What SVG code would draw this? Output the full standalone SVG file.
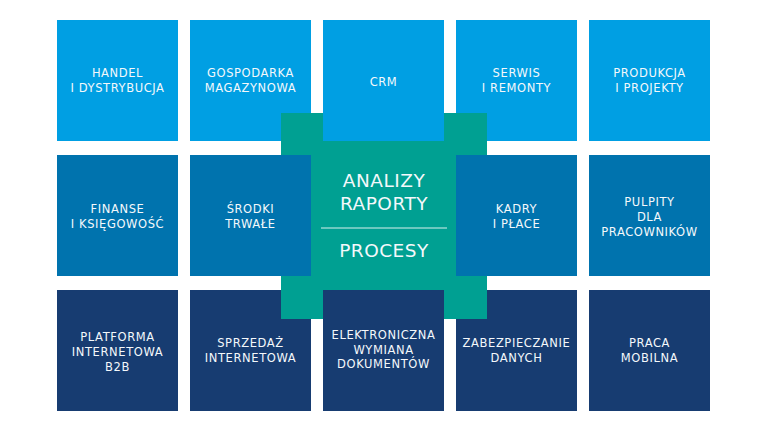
<svg xmlns="http://www.w3.org/2000/svg" width="768" height="432" viewBox="0 0 768 432">
<style>
.r1{fill:#009FE3}
.r2{fill:#0073AE}
.r3{fill:#173C71}
.core{fill:#00A092}
.t{fill:#F4F8FB;font-family:"DejaVu Sans",sans-serif;font-size:11.5px;text-anchor:middle;letter-spacing:0.6px}
.c{fill:#F4F8FB;font-family:"DejaVu Sans",sans-serif;font-size:18.5px;text-anchor:middle;letter-spacing:0.5px}
</style>
<rect width="768" height="432" fill="#FFFFFF"/>
<g id="gospodarka"><rect class="r1" x="190" y="20" width="121" height="121"/><text class="t" x="250.5" y="77">GOSPODARKA</text><text class="t" x="250.5" y="92">MAGAZYNOWA</text></g>
<g id="serwis"><rect class="r1" x="456" y="20" width="121" height="121"/><text class="t" x="516.5" y="77">SERWIS</text><text class="t" x="516.5" y="92">I REMONTY</text></g>
<g id="sprzedaz"><rect class="r3" x="190" y="290" width="121" height="121"/><text class="t" x="250.5" y="347">SPRZEDAŻ</text><text class="t" x="250.5" y="362">INTERNETOWA</text></g>
<g id="zabezpieczanie"><rect class="r3" x="456" y="290" width="121" height="121"/><text class="t" x="516.5" y="347">ZABEZPIECZANIE</text><text class="t" x="516.5" y="362">DANYCH</text></g>
<g id="center"><rect class="core" x="281" y="113" width="206" height="206"/><text class="c" x="384" y="187">ANALIZY</text><text class="c" x="384" y="210">RAPORTY</text><line x1="321" y1="228" x2="447" y2="228" stroke="#FFFFFF" stroke-width="1" opacity="0.85"/><text class="c" x="384" y="257">PROCESY</text></g>
<g id="handel"><rect class="r1" x="57" y="20" width="121" height="121"/><text class="t" x="117.5" y="77">HANDEL</text><text class="t" x="117.5" y="92">I DYSTRYBUCJA</text></g>
<g id="crm"><rect class="r1" x="323" y="20" width="121" height="121"/><text class="t" x="383.5" y="85.5">CRM</text></g>
<g id="produkcja"><rect class="r1" x="589" y="20" width="121" height="121"/><text class="t" x="649.5" y="77">PRODUKCJA</text><text class="t" x="649.5" y="92">I PROJEKTY</text></g>
<g id="finanse"><rect class="r2" x="57" y="155" width="121" height="121"/><text class="t" x="117.5" y="212.5">FINANSE</text><text class="t" x="117.5" y="227.5">I KSIĘGOWOŚĆ</text></g>
<g id="srodki"><rect class="r2" x="190" y="155" width="121" height="121"/><text class="t" x="250.5" y="212.5">ŚRODKI</text><text class="t" x="250.5" y="227.5">TRWAŁE</text></g>
<g id="kadry"><rect class="r2" x="456" y="155" width="121" height="121"/><text class="t" x="516.5" y="212.5">KADRY</text><text class="t" x="516.5" y="227.5">I PŁACE</text></g>
<g id="pulpity"><rect class="r2" x="589" y="155" width="121" height="121"/><text class="t" x="649.5" y="206">PULPITY</text><text class="t" x="649.5" y="221">DLA</text><text class="t" x="649.5" y="236">PRACOWNIKÓW</text></g>
<g id="platforma"><rect class="r3" x="57" y="290" width="121" height="121"/><text class="t" x="117.5" y="341">PLATFORMA</text><text class="t" x="117.5" y="356">INTERNETOWA</text><text class="t" x="117.5" y="371">B2B</text></g>
<g id="edi"><rect class="r3" x="323" y="290" width="121" height="121"/><text class="t" x="383.5" y="338.5">ELEKTRONICZNA</text><text class="t" x="383.5" y="353.5">WYMIANA</text><text class="t" x="383.5" y="368">DOKUMENTÓW</text></g>
<g id="praca"><rect class="r3" x="589" y="290" width="121" height="121"/><text class="t" x="649.5" y="347">PRACA</text><text class="t" x="649.5" y="362">MOBILNA</text></g>
<g id="connectors"></g>
</svg>
